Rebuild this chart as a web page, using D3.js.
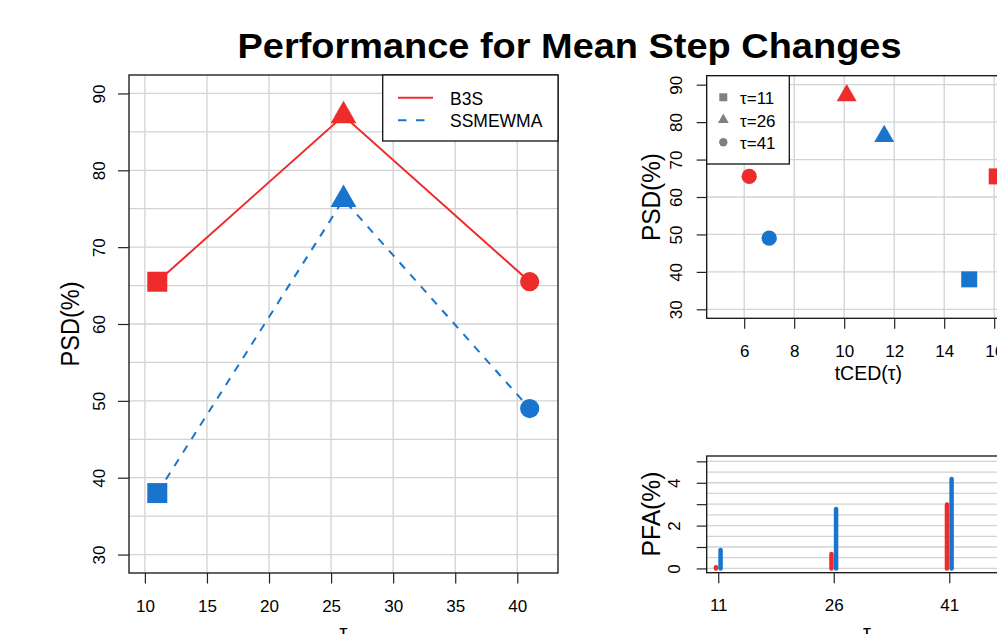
<!DOCTYPE html>
<html>
<head>
<meta charset="utf-8">
<script src="https://cdn.jsdelivr.net/npm/d3@7"></script>
<style>
  body { margin: 0; background: #fff; }
  svg { display: block; font-family: "Liberation Sans", Arial, Helvetica, sans-serif; }
</style>
</head>
<body>
<div class="container"></div>
<script>
// values
const taus = [11, 26, 41];
const methods = ["B3S", "SSMEWMA"];
const colors = ["#EE2C2C", "#1874CD"];
const shapes = [d3.symbolSquare, d3.symbolTriangle, d3.symbolCircle];
const psdB3S = [65.5, 87.1, 65.5];
const psdSSM = [38.0, 76.2, 49.0];
const tcedB3S = [16.1, 10.1, 6.2];
const tcedSSM = [15.0, 11.6, 7.0];
const pfaB3S = [0.05, 0.67, 2.98];
const pfaSSM = [0.86, 2.78, 4.18];
const xTicksL = [10, 15, 20, 25, 30, 35, 40];
const yTicksPSD = [30, 40, 50, 60, 70, 80, 90];
const xTicksTR = [6, 8, 10, 12, 14, 16, 18, 20];
const yTicksPFA = [0, 1, 2, 3, 4, 5];

const width = 997;
const height = 634;
const grid = "#D3D3D3";
const tickFont = 17;

const svg = d3.select(".container").append("svg").attr("width", width).attr("height", height);

// title
svg.append("text")
    .attr("x", 569.5).attr("y", 58)
    .attr("text-anchor", "middle")
    .attr("font-size", 35).attr("font-weight", "bold")
    .attr("textLength", 664).attr("lengthAdjust", "spacingAndGlyphs")
    .text("Performance for Mean Step Changes");

function yAxis(g, y, ticks, labels, off) {
  const ax = g.append("g").attr("transform", `translate(${off.x},0)`)
      .call(d3.axisLeft(y).tickValues(ticks).tickSize(off.tick).tickFormat(d => labels.includes(d) ? d : ""));
  ax.select(".domain").remove();
  ax.selectAll("line").attr("stroke", "#222").attr("stroke-width", 1.2);
  ax.selectAll("text")
      .attr("x", 0).attr("dy", null).attr("y", -off.lab)
      .attr("transform", "rotate(-90)")
      .attr("text-anchor", "middle")
      .attr("font-size", tickFont).attr("fill", "#000")
      .attr("font-family", null);
}

function xAxis(g, x, ticks, yy) {
  const ax = g.append("g").attr("transform", `translate(0,${yy})`)
      .call(d3.axisBottom(x).tickValues(ticks).tickSize(10.5));
  ax.select(".domain").remove();
  ax.selectAll("line").attr("stroke", "#222").attr("stroke-width", 1.2);
  ax.selectAll("text").attr("dy", null).attr("y", 38.5)
      .attr("font-size", tickFont).attr("fill", "#000").attr("font-family", null);
}

function box(g, x0, y0, x1, y1) {
  g.append("rect").attr("x", x0).attr("y", y0).attr("width", x1 - x0).attr("height", y1 - y0)
      .attr("fill", "none").attr("stroke", "#111").attr("stroke-width", 1.3);
}

function rotLabel(g, text, x, y, len) {
  g.append("text").attr("transform", `translate(${x},${y}) rotate(-90)`)
      .attr("text-anchor", "middle").attr("font-size", 25)
      .attr("textLength", len).attr("lengthAdjust", "spacingAndGlyphs")
      .text(text);
}

// ---------- left panel: PSD by tau ----------
const L = {x0: 129, x1: 558, y0: 75, y1: 573};
const xL = d3.scaleLinear().domain([8.72, 43.28]).range([L.x0, L.x1]);
const yL = d3.scaleLinear().domain([27.6, 92.4]).range([L.y1, L.y0]);
const gL = svg.append("g");

gL.selectAll(".vg").data(xTicksL).enter().append("line")
    .attr("x1", d => xL(d)).attr("x2", d => xL(d)).attr("y1", L.y0).attr("y2", L.y1)
    .attr("stroke", grid).attr("stroke-width", 1.3);
gL.selectAll(".hg").data(d3.range(30, 91, 5)).enter().append("line")
    .attr("y1", d => yL(d)).attr("y2", d => yL(d)).attr("x1", L.x0).attr("x2", L.x1)
    .attr("stroke", grid).attr("stroke-width", 1.3);

const seriesL = [psdB3S, psdSSM];
const line = d3.line().x((d, i) => xL(taus[i])).y(d => yL(d));
seriesL.forEach((s, k) => {
  gL.append("path").datum(s).attr("d", line)
      .attr("fill", "none").attr("stroke", colors[k]).attr("stroke-width", 2)
      .attr("stroke-dasharray", k === 1 ? "8,8" : null);
});
const sizesL = [400, 288, 290];
seriesL.forEach((s, k) => {
  gL.selectAll(".m" + k).data(s).enter().append("path")
      .attr("transform", (d, i) => `translate(${xL(taus[i])},${yL(d)})`)
      .attr("d", (d, i) => d3.symbol(shapes[i], sizesL[i])())
      .attr("fill", colors[k]);
});

box(gL, L.x0, L.y0, L.x1, L.y1);
yAxis(gL, yL, yTicksPSD, yTicksPSD, {x: L.x0, tick: 11, lab: 24});
xAxis(gL, xL, xTicksL, L.y1);
rotLabel(gL, "PSD(%)", 79, 324, 85);
gL.append("text").attr("x", (L.x0 + L.x1) / 2).attr("y", 639).attr("text-anchor", "middle")
    .attr("font-size", 20).text("τ");

// legend
const lg = gL.append("g");
lg.append("rect").attr("x", 382.7).attr("y", L.y0).attr("width", L.x1 - 382.7).attr("height", 66)
    .attr("fill", "#fff").attr("stroke", "#111").attr("stroke-width", 1.3);
methods.forEach((m, k) => {
  const yy = 97.7 + k * 22.5;
  lg.append("line").attr("x1", 398).attr("x2", 433).attr("y1", yy).attr("y2", yy)
      .attr("stroke", colors[k]).attr("stroke-width", 2)
      .attr("stroke-dasharray", k === 1 ? "8.5,9.5" : null);
  lg.append("text").attr("x", 450).attr("y", yy + 7).attr("font-size", 17.5).text(m);
});

// ---------- top right: PSD vs tCED ----------
const T = {x0: 706.7, x1: 1136.7, y0: 75.7, y1: 318.3};
const xT = d3.scaleLinear().domain([4.5, 21.7]).range([T.x0, T.x1]);
const yT = d3.scaleLinear().domain([27.6, 92.4]).range([T.y1, T.y0]);
const gT = svg.append("g");

gT.selectAll(".vg").data(xTicksTR).enter().append("line")
    .attr("x1", d => xT(d)).attr("x2", d => xT(d)).attr("y1", T.y0).attr("y2", T.y1)
    .attr("stroke", grid).attr("stroke-width", 1.3);
gT.selectAll(".hg").data(yTicksPSD).enter().append("line")
    .attr("y1", d => yT(d)).attr("y2", d => yT(d)).attr("x1", T.x0).attr("x2", T.x1)
    .attr("stroke", grid).attr("stroke-width", 1.3);

const sizesT = [256, 172, 185];
[[tcedB3S, psdB3S], [tcedSSM, psdSSM]].forEach((s, k) => {
  gT.selectAll(".p" + k).data(s[0]).enter().append("path")
      .attr("transform", (d, i) => `translate(${xT(d)},${yT(s[1][i])})`)
      .attr("d", (d, i) => d3.symbol(shapes[i], sizesT[i])())
      .attr("fill", colors[k]);
});

box(gT, T.x0, T.y0, T.x1, T.y1);
yAxis(gT, yT, yTicksPSD, yTicksPSD, {x: T.x0, tick: 10, lab: 25});
xAxis(gT, xT, xTicksTR, T.y1);
rotLabel(gT, "PSD(%)", 660, 197, 88);
gT.append("text").attr("x", 868.3).attr("y", 380).attr("text-anchor", "middle")
    .attr("font-size", 19.5).text("tCED(τ)");

const lt = gT.append("g");
lt.append("rect").attr("x", T.x0).attr("y", T.y0).attr("width", 82.6).attr("height", 88.3)
    .attr("fill", "#fff").attr("stroke", "#111").attr("stroke-width", 1.3);
taus.forEach((t, i) => {
  const yy = 97.3 + i * 22.5;
  lt.append("path").attr("transform", `translate(723.3,${yy})`)
      .attr("d", d3.symbol(shapes[i], [64, 50, 55][i])())
      .attr("fill", "#808080");
  lt.append("text").attr("x", 740).attr("y", yy + 7).attr("font-size", 17).text("τ=" + t);
});

// ---------- bottom right: PFA by tau ----------
const B = {x0: 706.7, x1: 1136.4, y0: 456, y1: 572.7};
const xB = d3.scaleLinear().domain([9.5, 65.3]).range([B.x0, B.x1]);
const yB = d3.scaleLinear().domain([-0.2, 5.25]).range([B.y1, B.y0]);
const gB = svg.append("g");

gB.selectAll(".hg").data(d3.range(0, 5.01, 0.5)).enter().append("line")
    .attr("y1", d => yB(d)).attr("y2", d => yB(d)).attr("x1", B.x0).attr("x2", B.x1)
    .attr("stroke", grid).attr("stroke-width", 1.3);

[pfaB3S, pfaSSM].forEach((s, k) => {
  const dx = k === 0 ? -0.3 : 0.3;
  gB.selectAll(".b" + k).data(s).enter().append("line")
      .attr("x1", (d, i) => xB(taus[i] + dx)).attr("x2", (d, i) => xB(taus[i] + dx))
      .attr("y1", yB(0)).attr("y2", d => yB(d))
      .attr("stroke", colors[k]).attr("stroke-width", 4.5).attr("stroke-linecap", "round");
});

box(gB, B.x0, B.y0, B.x1, B.y1);
yAxis(gB, yB, yTicksPFA, [0, 2, 4], {x: B.x0, tick: 10, lab: 26.5});
xAxis(gB, xB, taus, B.y1);
rotLabel(gB, "PFA(%)", 660, 514, 85);
gB.append("text").attr("x", 867).attr("y", 639).attr("text-anchor", "middle")
    .attr("font-size", 20).text("τ");
</script>
</body>
</html>
